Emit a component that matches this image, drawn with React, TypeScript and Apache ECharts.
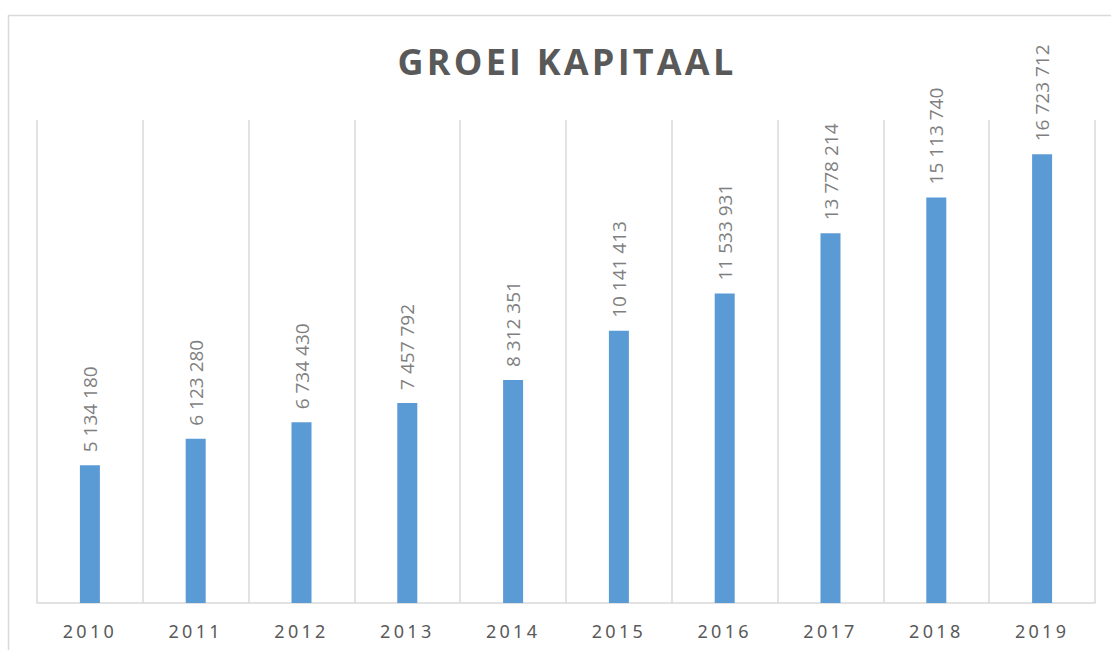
import React, { useEffect, useRef } from "react";
import * as echarts from "echarts";

const title = "GROEI KAPITAAL";
const years = ["2010", "2011", "2012", "2013", "2014", "2015", "2016", "2017", "2018", "2019"];
const capital = [5134180, 6123280, 6734430, 7457792, 8312351, 10141413, 11533931, 13778214, 15113740, 16723712];
const yMax = 18000000;

const fmt = (v: number) => String(v).replace(/\B(?=(\d{3})+(?!\d))/g, " ");

const css = `
.chart text[style*="Noto Sans"] { letter-spacing: 3.3px; }
.chart text[style*="36px"] { letter-spacing: 3.2px; }
`;

export default function App() {
  const ref = useRef<HTMLDivElement>(null);
  useEffect(() => {
    document.body.style.margin = "0";
    if (!ref.current) return;
    const chart = echarts.init(ref.current, null, { renderer: "svg" });
    chart.setOption({
      animation: false,
      backgroundColor: "#ffffff",
      graphic: [
        {
          type: "rect",
          shape: { x: 8.5, y: 15.5, width: 1300, height: 800 },
          style: { fill: "none", stroke: "#d9d9d9", lineWidth: 1.5 },
          silent: true,
        },
        {
          type: "text",
          x: 567,
          y: 61,
          silent: true,
          style: {
            text: title,
            textAlign: "center",
            textVerticalAlign: "middle",
            fontFamily: "Open Sans",
            fontWeight: "bold",
            fontSize: 36,
            fill: "#595959",
          },
        },
      ],
      grid: { left: 37, right: 16, top: 120, bottom: 47 },
      xAxis: {
        type: "category",
        data: years,
        boundaryGap: true,
        axisLine: { show: true, lineStyle: { color: "#d9d9d9", width: 1.5 } },
        axisTick: { show: false },
        splitLine: { show: true, lineStyle: { color: "#d9d9d9", width: 1.5 } },
        axisLabel: {
          margin: 19,
          fontFamily: "Noto Sans",
          fontSize: 18,
          color: "#595959",
        },
      },
      yAxis: {
        type: "value",
        min: 0,
        max: yMax,
        show: false,
        splitLine: { show: false },
      },
      series: [
        {
          type: "bar",
          data: capital,
          barWidth: 20,
          itemStyle: { color: "#5B9BD5" },
          label: {
            show: true,
            position: "top",
            rotate: 90,
            align: "left",
            verticalAlign: "middle",
            distance: 13,
            fontFamily: "Open Sans",
            fontSize: 19,
            color: "#7f7f7f",
            formatter: (p: any) => fmt(p.value),
          },
        },
      ],
    });
    return () => chart.dispose();
  }, []);
  return (
    <>
      <style>{css}</style>
      <div className="chart" ref={ref} style={{ width: 1111, height: 650 }} />
    </>
  );
}
